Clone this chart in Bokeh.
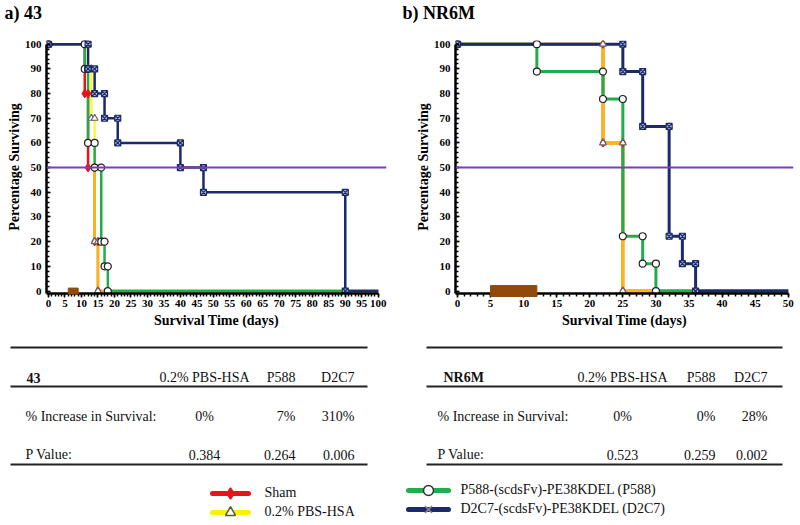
from bokeh.plotting import figure
from bokeh.models import Range1d, Span, FixedTicker
from bokeh.layouts import column, row
from bokeh.embed import file_html
from bokeh.resources import INLINE
from bokeh.core.properties import value

# ---------------- data ----------------
panel_titles = ["a) 43", "b) NR6M"]
series_names = ["Sham", "0.2% PBS-HSA",
                "P588-(scdsFv)-PE38KDEL (P588)", "D2C7-(scdsFv)-PE38KDEL (D2C7)"]

# panel a) 43  (event times in days, % surviving after each event)
a_sham_t = [0, 11, 12, 14, 15, 100]
a_sham_s = [100, 80, 50, 20, 0, 0]
a_pbs_t = [0, 12, 13, 14, 15, 100]
a_pbs_s = [100, 90, 70, 20, 0, 0]
a_p588_t = [0, 11, 12, 14, 16, 17, 18, 100]
a_p588_s = [100, 90, 60, 50, 20, 10, 0, 0]
a_d2c7_t = [0, 12, 14, 17, 21, 40, 47, 90, 100]
a_d2c7_s = [100, 90, 80, 70, 60, 50, 40, 0, 0]

# panel b) NR6M
b_sham_t = [0, 22, 25, 50]
b_sham_s = [100, 60, 0, 0]
b_pbs_t = [0, 22, 25, 50]
b_pbs_s = [100, 60, 0, 0]
b_p588_t = [0, 12, 22, 25, 28, 30, 50]
b_p588_s = [100, 88.9, 77.8, 22.2, 11.1, 0, 0]
b_d2c7_t = [0, 25, 28, 32, 34, 36, 50]
b_d2c7_s = [100, 88.9, 66.7, 22.2, 11.1, 0, 0]

median_level = 50
a_treatment = [6, 9]
b_treatment = [5, 12]

a_x_ticks = list(range(0, 101, 5))
b_x_ticks = list(range(0, 51, 5))
y_ticks = list(range(0, 101, 10))

table_columns = ["0.2% PBS-HSA", "P588", "D2C7"]
row_labels = ["% Increase in Survival:", "P Value:"]
a_table_name = "43"
a_increase = ["0%", "7%", "310%"]
a_pvalue = ["0.384", "0.264", "0.006"]
b_table_name = "NR6M"
b_increase = ["0%", "0%", "28%"]
b_pvalue = ["0.523", "0.259", "0.002"]

# ---------------- styles ----------------
FONT = "Liberation Serif"
C_SHAM = "#e8141b"
C_PBS = "#fff200"
C_P588 = "#1fae4b"
C_D2C7 = "#1b2a6b"
C_MED = "#7b3fb5"
C_TREAT = "#8f4a0c"


def marker_points(t, s):
    mx, my = [t[0]], [s[0]]
    for i in range(1, len(t) - 1):
        mx += [t[i], t[i]]
        my += [s[i - 1], s[i]]
    return mx, my


def km_plot(series, ticks, xr, frame_w, bl, br, treat, treat_h, lw, ylab_standoff):
    p = figure(x_range=Range1d(*xr), y_range=Range1d(-1, 101.5),
               frame_width=frame_w, frame_height=253,
               min_border_left=bl, min_border_right=br,
               min_border_top=16, min_border_bottom=41,
               output_backend="svg", toolbar_location=None)
    p.outline_line_color = None
    p.grid.visible = False

    p.add_layout(Span(location=median_level, dimension="width",
                      line_color=C_MED, line_width=2))

    styles = [
        (C_SHAM, 1.0, "diamond", 8, C_SHAM, C_SHAM),
        (C_PBS, 0.75, "triangle", 7, "white", "#666666"),
        (C_P588, 1.0, "circle", 7, "white", "#222222"),
        (C_D2C7, 1.0, "square_x", 6, "#b8bccc", C_D2C7),
    ]
    for (t, s), (c, a, *_rest) in zip(series, styles):
        p.step(t, s, mode="after", line_color=c, line_width=lw, line_alpha=a)
    for (t, s), (c, a, m, ms, mf, ml) in zip(series, styles):
        mx, my = marker_points(t, s)
        p.scatter(mx, my, marker=m, size=ms, fill_color=mf, line_color=ml,
                  line_width=1.2)

    r = p.quad(left=[treat[0]], right=[treat[1]], bottom=[-treat_h], top=[treat_h],
               fill_color=C_TREAT, line_color=C_TREAT)
    r.level = "overlay"

    p.xaxis.ticker = FixedTicker(ticks=ticks, minor_ticks=list(range(0, ticks[-1] + 1)))
    p.yaxis.ticker = FixedTicker(ticks=y_ticks, minor_ticks=list(range(0, 101, 2)))
    p.xaxis.bounds = (xr[0], ticks[-1])
    p.yaxis.bounds = (-1, 100)
    p.xaxis.axis_label = "Survival Time (days)"
    p.yaxis.axis_label = "Percentage Surviving"
    for ax in (p.xaxis, p.yaxis):
        ax.axis_line_width = 2.5
        ax.axis_line_color = "black"
        ax.major_tick_line_width = 1.5
        ax.minor_tick_line_width = 1.5
        ax.major_tick_line_color = "black"
        ax.minor_tick_line_color = "black"
        ax.major_label_text_font = FONT
        ax.major_label_text_font_style = "bold"
        ax.major_label_text_font_size = "11px"
        ax.major_label_text_color = "black"
        ax.axis_label_text_font = FONT
        ax.axis_label_text_font_style = "bold"
        ax.axis_label_text_font_size = "14px"
        ax.axis_label_text_color = "black"
    p.xaxis.major_tick_out = 4
    p.xaxis.major_tick_in = 0
    p.xaxis.minor_tick_out = 3
    p.xaxis.minor_tick_in = 0
    p.xaxis.major_label_standoff = 2
    p.xaxis.axis_label_standoff = 3
    p.yaxis.major_tick_out = 0
    p.yaxis.major_tick_in = 4
    p.yaxis.minor_tick_out = 0
    p.yaxis.minor_tick_in = 3
    p.yaxis.major_label_standoff = 5
    p.yaxis.axis_label_standoff = ylab_standoff
    return p


# ---------------- panel titles ----------------
hd = figure(x_range=Range1d(0, 800), y_range=Range1d(24, 0), width=800, height=24,
            min_border=0, x_axis_location=None, y_axis_location=None,
            output_backend="svg", toolbar_location=None)
hd.outline_line_color = None
hd.grid.visible = False
hd.text(x=[4, 402], y=[12, 12], text=panel_titles, text_font=value(FONT),
        text_font_size=value("18px"), text_font_style="bold",
        text_baseline="middle", text_align="left", text_color="black")

pa = km_plot([(a_sham_t, a_sham_s), (a_pbs_t, a_pbs_s), (a_p588_t, a_p588_s), (a_d2c7_t, a_d2c7_s)],
             a_x_ticks, (-0.6, 102.5), 340, 46, 25, a_treatment, 1.2, 2.5, 0)
pb = km_plot([(b_sham_t, b_sham_s), (b_pbs_t, b_pbs_s), (b_p588_t, b_p588_s), (b_d2c7_t, b_d2c7_s)],
             b_x_ticks, (-0.3, 50.8), 338, 44, 7, b_treatment, 2.2, 3, 0)

# ---------------- tables & legend ----------------
W, H = 800, 190
tb = figure(x_range=Range1d(0, W), y_range=Range1d(H, 0), width=W, height=H,
            min_border=0, x_axis_location=None, y_axis_location=None,
            output_backend="svg", toolbar_location=None)
tb.outline_line_color = None
tb.grid.visible = False

Y_TOP, Y_HEAD, Y_HLINE, Y_R1, Y_R2, Y_BOT = 13, 43, 52, 82, 120, 130


def draw_table(x0, x1, lab_x, name_x, c1, c2, c3, name, inc, pv):
    tb.segment(x0=[x0, x0, x0], y0=[Y_TOP, Y_HLINE, Y_BOT],
               x1=[x1, x1, x1], y1=[Y_TOP, Y_HLINE, Y_BOT],
               line_color="#222222", line_width=2)
    tb.text(x=[name_x], y=[Y_HEAD], text=[name], text_font=value(FONT),
            text_font_size=value("14px"), text_font_style="bold",
            text_baseline="middle", text_align="left", text_color="#111111")
    tb.text(x=[lab_x, lab_x], y=[Y_R1, Y_R2], text=row_labels, text_font=value(FONT),
            text_font_size=value("14px"), text_baseline="middle", text_align="left",
            text_color="#111111")
    tb.text(x=[c1, c1, c1], y=[Y_HEAD, Y_R1, Y_R2],
            text=[table_columns[0], inc[0], pv[0]], text_font=value(FONT),
            text_font_size=value("14px"), text_baseline="middle", text_align="center",
            text_color="#111111")
    tb.text(x=[c2, c2, c2, c3, c3, c3], y=[Y_HEAD, Y_R1, Y_R2] * 2,
            text=[table_columns[1], inc[1], pv[1], table_columns[2], inc[2], pv[2]],
            text_font=value(FONT), text_font_size=value("14px"),
            text_baseline="middle", text_align="right", text_color="#111111")


draw_table(10, 367, 25, 26, 204, 295, 354, a_table_name, a_increase, a_pvalue)
draw_table(426, 782, 437, 443, 622, 715, 767, b_table_name, b_increase, b_pvalue)

# legend
leg = [
    (212, 248, 159, C_SHAM, "diamond", 11, C_SHAM, C_SHAM, 264),
    (212, 248, 178, C_PBS, "triangle", 10, "white", "#555555", 264),
    (408, 448, 156, C_P588, "circle", 10, "white", "#333333", 460),
    (408, 448, 175, C_D2C7, "x", 10, None, "#888888", 460),
]
for (x0, x1, y, c, m, ms, mf, ml, tx), name in zip(leg, series_names):
    tb.segment(x0=[x0], y0=[y], x1=[x1], y1=[y], line_color=c, line_width=5,
               line_cap="round")
    tb.scatter(x=[(x0 + x1) / 2], y=[y], marker=m, size=ms, fill_color=mf,
               line_color=ml, line_width=1.5)
    tb.text(x=[tx], y=[y - 1], text=[name], text_font=value(FONT),
            text_font_size=value("14px"), text_baseline="middle", text_align="left",
            text_color="#111111")

layout = column(hd, row(pa, pb), tb)
open("out.html", "w").write(file_html(layout, INLINE))
